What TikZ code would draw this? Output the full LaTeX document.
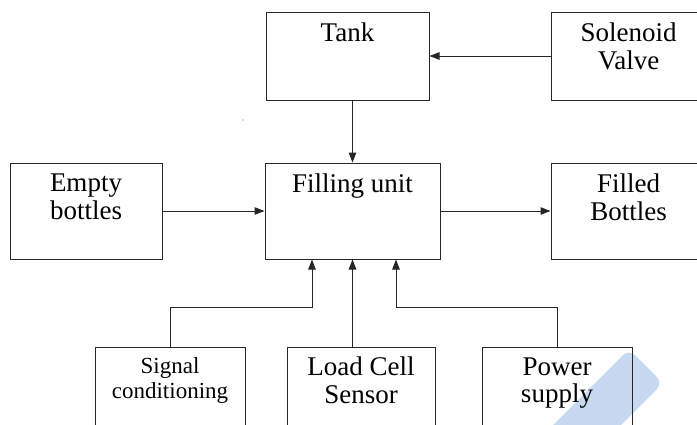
\documentclass[tikz,border=0pt]{standalone}
\usepackage{fontspec}
\setmainfont{Liberation Serif}
\usetikzlibrary{arrows.meta,positioning,calc}
\definecolor{bandblue}{RGB}{198,217,241}
\tikzset{
    blk/.style={draw=black!85, line width=1pt, minimum width=#1, minimum height=96pt, inner sep=0pt},
    txt/.style={align=center, inner sep=0pt, font=\fontsize{27}{27.5}\selectfont},
    smalltxt/.style={align=center, inner sep=0pt, font=\fontsize{23}{25}\selectfont},
    arr/.style={draw=black!85, line width=1pt, -{Triangle[length=10pt,width=7.5pt]}}
}
\begin{document}
\begin{tikzpicture}[x=1pt,y=-1pt]
                    \useasboundingbox (0,0) rectangle (697,424);
                    \clip (0,0) rectangle (697,424);
                    \fill[bandblue, rounded corners=9pt] (538,440) -- (629,349) -- (663,383) -- (606,440) -- cycle;
                    \fill[blue!70] (243,120) circle (0.7);

                    \node[blk=163pt, minimum height=88pt] (tank) at (347.5,56) {};
                    \node[blk=155pt, minimum height=88pt] (sol) at (628.5,56) {};
                    \node[blk=152pt] (empty) at (86,211) {};
                    \node[blk=175pt] (fill) at (352.5,211) {};
                    \node[blk=155pt] (filled) at (628.5,211) {};
                    \node[blk=150pt] (signal) at (170,395) {};
                    \node[blk=148pt] (load) at (361,395) {};
                    \node[blk=150pt] (power) at (557,395) {};

                    \node[txt, below=11.5pt of tank.north] (tanktxt) {Tank};
                    \node[txt, below=11.5pt of sol.north] (soltxt) {Solenoid\\Valve};
                    \node[txt, below=11.5pt of empty.north] (emptytxt) {Empty\\bottles};
                    \node[txt, below=11.5pt of fill.north] (filltxt) {Filling unit};
                    \node[txt, below=11.5pt of filled.north] (filledtxt) {Filled\\Bottles};
                    \node[smalltxt, below=10.5pt of signal.north] (signaltxt) {Signal\\conditioning};
                    \node[txt, below=10.5pt of load.north] (loadtxt) {Load Cell\\Sensor};
                    \node[txt, below=11pt of power.north] (powertxt) {Power\\supply};

                    \coordinate (inl) at ($(fill.south)+(-40.5,0)$);
                    \coordinate (inr) at ($(fill.south)+(43.5,0)$);

                    \draw[arr] (sol) -- (tank);
                    \draw[arr] (fill.north |- tank.south) -- (fill.north);
                    \draw[arr] (empty) -- (fill);
                    \draw[arr] (fill) -- (filled);
                    \draw[arr] (signal.north) |- ([yshift=-48pt]inl) -- (inl);
                    \draw[arr] (load.north -| fill.south) -- (fill.south);
                    \draw[arr] (power.north) |- ([yshift=-48pt]inr) -- (inr);
                \end{tikzpicture}
\end{document}
